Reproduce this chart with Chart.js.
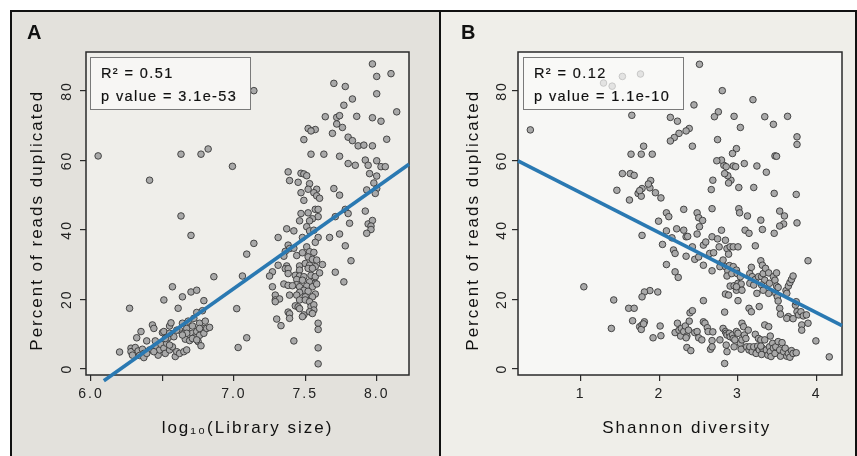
<!DOCTYPE html>
<html>
<head>
<meta charset="utf-8">
<script src="https://cdn.jsdelivr.net/npm/chart.js@4.4.0/dist/chart.umd.min.js"></script>
<style>
  html, body { margin: 0; padding: 0; background: #fff; }
  body { width: 857px; height: 456px; position: relative; overflow: hidden; font-family: "Liberation Sans", Arial, sans-serif; }
  .bg { position: absolute; top: 10px; height: 446px; }
  #bgA { left: 10px; width: 430px; background: #e3e1dc; }
  #bgB { left: 440px; width: 417px; background: #efeee9; }
  .wrap { position: absolute; top: 0; height: 456px; }
  #wrapA { left: 0; width: 440px; }
  #wrapB { left: 440px; width: 417px; }
  .frame { position: absolute; left: 10px; top: 10px; width: 847px; height: 470px; border: 2px solid #111; box-sizing: border-box; pointer-events: none; }
  .divider { position: absolute; left: 439px; top: 10px; width: 2px; height: 446px; background: #111; }
  .tag { position: absolute; top: 22px; font-size: 20px; line-height: 20px; font-weight: bold; color: #111; }
  .stats { position: absolute; top: 57px; width: 159px; height: 51px; border: 1px solid #7a7a7a; background: rgba(250, 250, 248, 0.72); color: #111; font-size: 14.5px; letter-spacing: 1.4px; }
  .stats div { position: absolute; left: 10px; line-height: 16px; white-space: nowrap; -webkit-text-stroke: 0.2px #111; }
</style>
</head>
<body>
<div class="bg" id="bgA"></div>
<div class="bg" id="bgB"></div>
<div class="wrap" id="wrapA"><canvas id="chartA" width="440" height="456"></canvas></div>
<div class="wrap" id="wrapB"><canvas id="chartB" width="417" height="456"></canvas></div>
<div class="stats" style="left:90px"><div style="top:7px">R² = 0.51</div><div style="top:30px">p value = 3.1e-53</div></div>
<div class="stats" style="left:523px"><div style="top:7px">R² = 0.12</div><div style="top:30px">p value = 1.1e-10</div></div>
<div class="tag" style="left:27px">A</div>
<div class="tag" style="left:461px">B</div>
<div class="divider"></div>
<div class="frame"></div>

<script>
// ticks
const yTicks = [0, 20, 40, 60, 80];
const xTicksA = [6.0, 6.5, 7.0, 7.5, 8.0];
const xTickLabelsA = ['6.0', '', '7.0', '7.5', '8.0'];
const xTicksB = [1, 2, 3, 4];
const xTickLabelsB = ['1', '2', '3', '4'];

// fitted lines (end points)
const fitAX = [6.09, 8.226];
const fitAY = [-3.5, 58.9];
const fitBX = [0.203, 4.322];
const fitBY = [59.9, 12.4];

// panel A: log10(library size), % duplicated
const pointsA = [
  [6.05,61.3],[6.41,54.3],[6.63,61.8],[6.77,61.8],[6.82,63.3],[6.99,58.3],[7.14,80.1],[6.63,44.0],[6.70,38.4],[7.14,36.1],[7.09,33.0],[7.06,26.7],[6.86,26.5],[7.02,17.3],[7.03,6.1],[7.09,8.9],
  [7.97,87.8],[8.00,84.2],[8.10,85.0],[8.00,79.2],[7.70,82.2],[7.78,81.3],[7.83,77.7],[7.77,75.9],[7.64,72.6],[7.72,72.4],[7.74,72.9],[7.86,72.7],[7.97,72.3],[8.03,71.3],[8.14,74.0],[7.72,70.5],[7.76,69.5],[7.52,69.2],[7.57,68.9],[7.54,68.5],[7.49,66.0],[7.69,67.8],[7.80,66.7],[7.83,65.7],[7.87,64.2],[7.91,64.4],[7.97,64.2],[8.07,66.1],[7.54,61.8],[7.63,61.8],[7.74,61.2],[7.80,59.1],[7.85,58.6],[7.92,60.1],[7.94,58.6],[8.00,59.9],[8.03,58.2],[8.06,58.2],[7.95,56.2],[8.00,55.5],[7.98,53.5],[7.93,51.5],[8.00,51.9],[7.99,50.5],[7.70,51.9],[7.74,50.0],[7.78,45.9],[7.92,45.4],[7.80,44.7],[7.71,43.8],[7.81,41.9],[7.94,41.7],[7.97,42.7],[7.96,41.1],[7.96,40.1],[7.93,39.0],[7.74,38.8],[7.67,37.8],[7.78,35.4],[7.82,31.1],[7.71,27.8],[7.77,25.0],
  [7.38,56.7],[7.39,54.2],[7.47,56.3],[7.49,56.1],[7.51,55.6],[7.45,53.7],[7.53,53.3],[7.52,51.7],[7.58,51.7],[7.56,50.7],[7.47,50.7],[7.58,49.8],[7.60,49.1],[7.49,48.5],[7.57,45.9],[7.59,45.9],[7.47,44.7],[7.52,44.9],[7.59,43.8],[7.55,43.2],[7.53,42.6],[7.46,42.6],[7.37,40.3],[7.42,39.7],[7.51,40.9],[7.53,39.7],[7.56,39.9],[7.48,37.8],[7.31,37.8],[7.59,37.8],[7.38,35.6],[7.57,36.4],[7.39,34.6],[7.36,33.8],[7.42,34.7],[7.51,35.1],[7.35,32.4],[7.44,32.6],[7.48,33.4],[7.53,33.7],[7.56,33.5],[7.52,32.2],[7.55,31.5],[7.58,31.3],[7.31,29.8],[7.37,29.6],[7.46,29.6],[7.50,30.3],[7.53,29.8],[7.57,29.4],[7.62,30.0],[7.36,28.8],[7.38,28.8],[7.46,28.4],[7.52,28.9],[7.55,28.9],[7.27,27.9],[7.25,26.7],[7.38,27.4],[7.43,26.9],[7.46,26.7],[7.49,26.5],[7.54,26.9],[7.57,26.5],[7.60,27.6],[7.44,25.7],[7.48,25.5],[7.53,25.0],[7.57,24.6],[7.44,24.2],[7.35,24.4],[7.38,24.0],[7.41,23.9],[7.46,23.6],[7.51,23.8],[7.55,23.6],[7.58,24.4],[7.27,23.6],[7.49,22.6],[7.52,22.3],[7.46,22.0],[7.57,21.5],[7.29,21.2],[7.39,21.2],[7.44,21.2],[7.50,20.7],[7.55,20.7],[7.29,19.8],[7.32,20.1],[7.29,19.3],[7.46,19.8],[7.50,19.8],[7.53,19.3],[7.54,17.9],[7.43,18.1],[7.45,17.8],[7.46,17.3],[7.56,18.4],[7.56,16.9],[7.38,16.3],[7.39,15.8],[7.53,16.4],[7.55,15.9],[7.49,15.5],[7.48,15.0],[7.39,14.5],[7.30,14.3],[7.33,12.4],[7.59,13.1],[7.59,11.3],[7.42,8.0],[7.59,6.0],[7.59,1.4],
  [6.20,4.8],[6.27,17.4],[6.28,5.9],[6.28,4.9],[6.29,3.9],[6.31,6.1],[6.32,8.9],[6.33,5.1],[6.34,3.8],[6.35,10.7],[6.36,5.6],[6.37,4.4],[6.37,3.2],[6.39,8.0],[6.41,5.4],[6.43,12.6],[6.44,11.6],[6.45,8.0],[6.46,6.3],[6.47,3.9],[6.48,5.4],[6.49,7.0],[6.50,10.4],[6.51,19.8],[6.51,5.9],[6.52,4.4],[6.53,7.3],[6.54,8.9],[6.55,5.4],[6.55,12.3],[6.56,13.2],[6.57,23.6],[6.57,6.3],[6.58,9.2],[6.59,3.5],[6.60,4.9],[6.61,17.4],[6.62,11.1],[6.62,4.4],[6.64,13.1],[6.64,20.7],[6.65,10.2],[6.65,4.9],[6.66,8.5],[6.67,5.4],[6.67,11.6],[6.68,13.7],[6.69,8.1],[6.70,22.1],[6.71,10.2],[6.71,12.3],[6.72,14.5],[6.73,9.2],[6.74,22.6],[6.74,10.7],[6.74,16.2],[6.75,7.8],[6.76,13.1],[6.76,9.6],[6.77,6.6],[6.78,11.6],[6.78,16.7],[6.79,19.6],[6.79,10.2],[6.80,13.7],[6.81,11.6],[6.83,11.9],[6.51,10.7],[6.52,8.7],[6.55,10.2],[6.60,11.1],[6.67,10.2],[6.64,9.7],[6.71,8.7],[6.74,8.3],[6.55,6.8],[6.44,4.9],[6.39,4.4],[6.76,11.6]
];

// panel B: Shannon diversity, % duplicated
const pointsB = [
  [0.36,68.8],[1.04,23.6],[1.39,11.6],[1.42,19.8],
  [1.29,82.3],[1.40,81.4],[1.53,84.2],[1.76,84.9],
  [1.46,51.4],[1.53,56.2],[1.62,48.6],[1.63,56.2],[1.68,55.7],[1.65,73.0],[1.64,61.8],[1.77,61.8],[1.80,64.1],[1.91,61.8],[1.73,50.5],[1.77,49.7],[1.78,51.9],[1.75,51.3],[1.88,52.1],[1.89,54.2],[1.86,53.2],[1.95,50.7],[2.02,49.2],[1.78,38.4],[1.99,42.5],[2.09,44.9],[2.12,43.8],[2.04,35.8],[2.09,39.7],[2.16,37.7],[2.22,40.3],[2.31,45.9],[2.31,39.9],[2.34,38.0],[2.36,38.1],[2.18,34.2],[2.20,33.2],[2.09,30.0],[2.20,27.9],[2.24,26.3],[2.34,32.4],[2.42,35.1],[2.45,31.5],[2.48,44.9],[2.50,43.5],[2.51,40.9],[2.48,38.8],[2.55,42.7],[2.50,32.2],[2.56,35.6],[2.59,36.5],[2.56,29.8],[2.67,46.1],[2.67,38.0],[2.64,33.2],[2.67,28.2],[2.69,33.4],[2.74,37.4],[2.76,35.1],[2.79,39.9],[2.78,30.3],[2.81,31.3],[2.77,29.4],[2.84,37.0],[2.86,34.6],[2.88,33.0],[2.90,35.1],[2.94,35.1],[3.00,35.1],[2.84,29.4],[2.87,28.2],[2.89,29.7],[2.94,29.4],[2.98,28.4],[2.86,26.7],[2.92,27.4],[2.99,27.4],[3.03,26.5],[2.90,23.8],[2.95,23.9],[3.00,24.6],[3.04,24.4],[2.98,22.6],[3.05,22.6],[2.98,23.6],[2.84,21.5],[2.88,21.2],[3.00,19.6],[2.83,16.3],
  [3.17,29.2],[3.15,27.4],[3.18,26.5],[3.15,24.6],[3.20,24.1],[3.22,25.7],[3.26,26.5],[3.24,21.7],[3.27,17.9],[3.14,17.4],[3.17,16.4],[3.29,31.1],[3.31,29.8],[3.30,26.5],[3.32,27.4],[3.35,28.9],[3.39,27.6],[3.34,25.5],[3.40,24.6],[3.39,21.7],[3.30,24.1],[3.32,22.6],[3.45,26.5],[3.49,27.6],[3.47,25.5],[3.49,23.8],[3.51,23.4],[3.48,21.7],[3.50,20.7],[3.51,19.5],[3.53,17.4],[3.54,15.7],[3.61,22.5],[3.64,23.8],[3.66,24.8],[3.68,25.7],[3.70,26.7],[3.62,21.7],[3.64,15.0],[3.62,14.5],[3.70,14.4],[3.73,18.3],[3.74,19.3],[3.75,16.4],[3.77,15.5],[3.80,16.4],[3.83,15.2],[3.81,12.6],[3.81,11.1],[3.87,15.5],[3.89,31.1],[3.89,13.1],[3.99,8.0],[4.16,3.4],
  [3.74,50.2],[3.75,42.0],[3.75,66.8],[3.75,64.6],[3.63,72.7],[3.45,70.4],[3.34,72.6],[3.47,61.3],[3.49,61.2],[3.46,50.5],[3.53,45.4],[3.59,44.0],[3.58,41.7],[3.53,41.1],[3.46,39.0],[3.36,56.6],[3.24,58.4],[3.20,52.2],[3.19,77.5],[3.29,42.8],[3.31,40.1],[3.22,35.4],[3.08,59.1],[3.09,39.9],[3.14,39.0],[3.12,44.0],[3.01,46.1],[3.02,44.9],[3.01,52.2],[3.03,69.5],[2.98,63.4],[2.95,72.7],[2.93,62.0],[2.94,58.4],[2.97,58.2],[2.91,54.3],[2.87,55.6],[2.88,53.5],[2.83,56.2],[2.82,58.6],[2.85,58.2],[2.79,60.1],[2.73,59.9],[2.74,66.0],[2.75,74.0],[2.70,72.6],[2.80,80.1],[2.51,87.7],[2.44,76.0],[2.42,64.1],[2.38,69.2],[2.34,68.5],[2.25,67.8],[2.19,66.6],[2.14,65.6],[2.14,72.4],[2.23,71.3],[2.68,54.3],[2.66,51.6],
  [2.01,12.3],[2.02,9.5],[1.92,8.9],[1.98,22.1],[1.88,22.5],[1.81,22.1],[1.78,20.7],[1.61,17.4],[1.68,17.4],[1.66,13.8],[1.75,12.1],[1.78,12.6],[1.77,11.3],[1.81,13.5],[1.80,12.9],[2.23,13.1],[2.20,10.4],[2.25,11.1],[2.28,11.6],[2.27,9.4],[2.31,10.7],[2.33,12.3],[2.35,9.4],[2.37,11.1],[2.38,13.7],[2.39,16.1],[2.42,16.7],[2.34,8.9],[2.35,6.1],[2.40,5.2],[2.45,10.4],[2.48,10.7],[2.50,8.9],[2.54,8.3],[2.56,13.5],[2.58,13.1],[2.56,19.6],[2.61,11.8],[2.62,10.7],[2.67,8.1],[2.65,5.6],[2.67,6.3],[2.68,10.6],[2.77,8.3],[2.81,11.6],[2.84,10.7],[2.85,10.2],[2.86,9.7],[2.85,6.8],[2.86,4.9],[2.83,1.5],[2.89,10.2],[2.90,9.2],[2.93,9.7],[2.94,8.7],[2.96,8.3],[2.95,6.3],[2.98,10.7],[3.00,10.2],[3.03,7.3],[3.05,8.3],[3.04,5.6],[3.05,13.1],[3.07,12.1],[3.08,9.7],[3.10,8.7],[3.13,11.1],[3.11,6.3],[3.14,5.4],[3.15,6.3],[3.18,4.9],[3.20,6.3],[3.22,9.9],[3.23,4.4],[3.25,6.5],[3.26,8.7],[3.29,8.3],[3.27,5.4],[3.30,4.1],[3.31,5.9],[3.34,8.3],[3.34,12.6],[3.39,12.1],[3.36,5.4],[3.38,3.9],[3.40,6.3],[3.41,4.9],[3.42,3.5],[3.44,7.3],[3.45,5.9],[3.47,4.4],[3.48,6.3],[3.51,7.8],[3.53,5.4],[3.54,3.6],[3.56,7.5],[3.58,4.9],[3.60,5.9],[3.62,3.6],[3.64,4.4],[3.66,3.3],[3.68,5.2],[3.70,4.4],[3.74,4.6],[3.41,9.4],[3.29,6.5]
];

Chart.defaults.font.family = '"Liberation Sans", Arial, sans-serif';
Chart.defaults.color = '#222';

// plot background + box, and the wide letter spacing of the original
const plotFrame = {
  id: 'plotFrame',
  beforeLayout(chart) { chart.ctx.letterSpacing = '2px'; },
  beforeDraw(chart, args, opts) {
    const { ctx, chartArea: a } = chart;
    ctx.letterSpacing = '2px';
    ctx.save();
    ctx.fillStyle = opts.fill;
    ctx.fillRect(a.left, a.top, a.right - a.left, a.bottom - a.top);
    ctx.restore();
  },
  beforeDatasetsDraw(chart) {
    const { ctx, chartArea: a } = chart;
    ctx.save();
    ctx.strokeStyle = '#2a2a2a';
    ctx.lineWidth = 1.5;
    ctx.strokeRect(a.left, a.top, a.right - a.left, a.bottom - a.top);
    ctx.restore();
  }
};

function makePanel(canvasId, opts) {
  const pts = opts.points.map(p => ({ x: p[0], y: p[1] }));
  const fit = opts.fitX.map((x, i) => ({ x: x, y: opts.fitY[i] }));
  return new Chart(document.getElementById(canvasId), {
    type: 'scatter',
    data: {
      datasets: [
        { data: fit, showLine: true, borderColor: '#2a79b2', borderWidth: 3.6, pointRadius: 0, clip: false, order: 0 },
        { data: pts, pointRadius: 3.3, pointBackgroundColor: '#a9a9a9', pointBorderColor: '#383838', pointBorderWidth: 0.9, order: 1 }
      ]
    },
    options: {
      responsive: false,
      animation: false,
      events: [],
      layout: { padding: { left: 0, top: 52, right: opts.padRight, bottom: 0 } },
      plugins: { legend: { display: false }, tooltip: { enabled: false }, plotFrame: { fill: opts.plotFill } },
      scales: {
        x: {
          type: 'linear', min: opts.xMin, max: opts.xMax,
          afterBuildTicks: s => { s.ticks = opts.xTicks.map(v => ({ value: v })); },
          afterFit: s => { s.height = 81; },
          grid: { drawOnChartArea: false, drawTicks: true, tickLength: 6, color: '#2a2a2a', lineWidth: 1.2 },
          border: { display: false },
          ticks: { callback: (v, i) => opts.xLabels[i], font: { size: 14 }, color: '#222', padding: 5, autoSkip: false, maxRotation: 0 },
          title: { display: true, text: opts.xTitle, font: { size: 17 }, color: '#111', padding: { top: 0, bottom: 17.8 } }
        },
        y: {
          type: 'linear', min: -1.82, max: 91.24,
          afterBuildTicks: s => { s.ticks = yTicks.map(v => ({ value: v })); },
          afterFit: s => { s.width = opts.yWidth; },
          grid: { drawOnChartArea: false, drawTicks: true, tickLength: 6, color: '#2a2a2a', lineWidth: 1.2 },
          border: { display: false },
          ticks: { minRotation: 90, maxRotation: 90, crossAlign: 'center', font: { size: 14 }, color: '#222', padding: opts.yTickPad, autoSkip: false },
          title: { display: true, text: 'Percent of reads duplicated  ', font: { size: 17 }, color: '#111', padding: { top: opts.yTitlePad, bottom: 0 } }
        }
      }
    },
    plugins: [plotFrame]
  });
}

makePanel('chartA', {
  points: pointsA, fitX: fitAX, fitY: fitAY,
  xMin: 5.965, xMax: 8.226, xTicks: xTicksA, xLabels: xTickLabelsA,
  xTitle: 'log₁₀(Library size)', yWidth: 86, padRight: 31,
  yTickPad: 3, yTitlePad: 27.5, plotFill: '#efeeea'
});

makePanel('chartB', {
  points: pointsB, fitX: fitBX, fitY: fitBY,
  xMin: 0.203, xMax: 4.322, xTicks: xTicksB, xLabels: xTickLabelsB,
  xTitle: '  Shannon diversity', yWidth: 78, padRight: 15,
  yTickPad: 0, yTitlePad: 23.6, plotFill: '#f7f7f5'
});
</script>
</body>
</html>
